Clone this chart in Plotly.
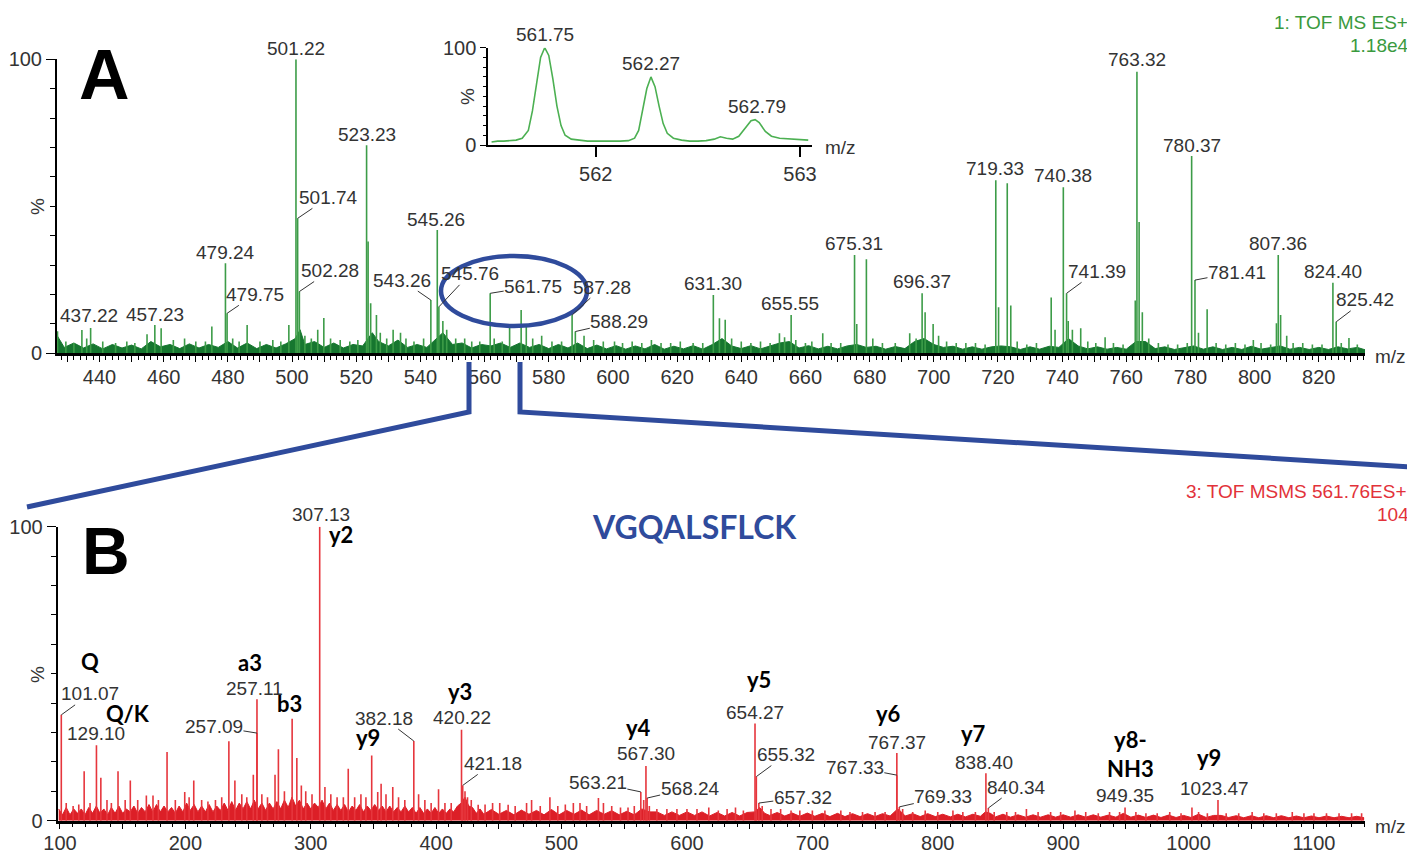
import plotly.graph_objects as go

# page is rendered with an 8px body margin, so the figure is sized/offset to compensate
W, H = 1415, 853
OFF = 8
FW, FH = W - OFF, H - OFF

# ---------------- Panel A : TOF MS survey spectrum (m/z, relative intensity %) ----------------
ms_label_mz = [437.22, 457.23, 479.24, 479.75, 501.22, 501.74, 502.28, 523.23, 543.26, 545.26,
               545.76, 561.75, 587.28, 588.29, 631.30, 655.55, 675.31, 696.37, 719.33, 740.38,
               741.39, 763.32, 780.37, 781.41, 807.36, 824.40, 825.42]
ms_label_int = [8.6, 9.6, 30.6, 13.6, 100.0, 45.9, 21.0, 70.8, 18.1, 41.9,
                15.8, 20.4, 13.0, 7.4, 19.8, 13.0, 33.4, 20.4, 58.9, 56.5,
                20.4, 95.8, 67.1, 24.9, 33.4, 24.0, 10.7]

ms_minor_peaks = [
    (426.9, 7.5), (429.5, 4), (432.0, 3.5), (434.5, 7.9), (436.0, 5), (441, 4), (445, 3.5), (448.5, 4),
    (451, 3.5), (454.8, 6.5), (459.2, 8.5), (463, 4.5), (466.5, 5), (470, 4), (473, 4), (475.0, 9.1),
    (481.5, 5), (483.5, 4), (486.0, 9.6), (490, 4), (494, 4.5), (496.5, 4), (499.0, 9.6), (504, 6),
    (506, 5), (508.0, 8), (509.9, 12), (512, 5), (515, 4.5), (518, 4), (520.5, 4.5), (523.7, 38),
    (524.5, 17), (526.3, 13), (527.5, 7), (529.5, 5), (531.5, 8), (533.8, 7), (535.5, 5), (538, 4),
    (541, 5), (547.0, 11), (548.2, 8), (551, 5), (553.8, 5), (556, 4), (558.5, 4), (563, 5),
    (565.5, 4), (567.8, 8.8), (571.4, 14.7), (573.0, 10), (575, 5), (577.8, 6), (581, 4), (584, 4),
    (591.0, 6), (594, 4.5), (597, 4), (600.5, 4), (603, 3.5), (606, 4), (609, 3.5), (612, 4.5),
    (615, 3.5), (618, 3.5), (621, 4), (625, 3.5), (628, 3.5), (633.2, 11.9), (635.0, 11.4), (637, 5),
    (640, 4), (643, 3.5), (646, 4), (649, 3.5), (651.9, 6.8), (653.5, 5.5), (657, 4.5), (660, 3.5),
    (662, 4), (665.4, 6.8), (668, 3.5), (671, 3.5), (676.0, 10), (679.0, 32), (681, 5), (684, 3.5),
    (688, 3.5), (692.5, 6.8), (694.5, 5), (697.3, 14), (699.8, 10), (701.5, 6), (704, 4), (707, 3.5),
    (710, 3.5), (713, 3.5), (716, 3), (720.2, 15.7), (722.9, 57.8), (724.0, 16.3), (726, 4), (729, 3),
    (732, 3.5), (736.6, 19), (737.8, 8), (741.9, 11), (743.2, 8), (745.8, 8.5), (748, 4), (750.5, 3.5),
    (753.4, 5.5), (756, 3.5), (759, 3), (762.8, 18), (764.0, 44.7), (765.0, 14), (767, 5), (770, 3.5),
    (773, 3), (776, 3), (779, 3.5), (782.5, 7), (785.2, 15), (788, 3.5), (791, 3), (794, 3.5),
    (797, 3), (799.6, 4.5), (802, 3.5), (805, 3), (806.8, 10.2), (808.1, 13), (810, 6), (812, 3.5),
    (815, 3.5), (818, 3), (821, 3), (827, 3.5), (829.4, 5.2), (832, 3),
]

# dense low-level "grass" (noise floor) of panel A
ms_baseline = [
    (426.8, 6), (429, 2), (432, 3.5), (435, 1.8), (438, 3.2), (441, 1.5), (444, 3), (447, 1.8), (450, 2.8),
    (453, 1.5), (456, 4), (459, 2.2), (462, 3), (465, 1.6), (468, 3.2), (471, 1.8), (474, 3), (477, 2),
    (480, 4), (483, 1.8), (486, 3.5), (489, 1.6), (492, 3), (495, 1.8), (498, 3.2), (501, 5), (502.5, 8),
    (504, 3), (507, 4), (510, 2), (513, 3.5), (516, 1.8), (519, 3), (522, 2.5), (525, 7), (527, 4),
    (530, 2.5), (533, 4.5), (536, 2), (539, 3), (542, 2), (545, 5), (547, 7), (550, 3), (553, 3.5),
    (556, 1.8), (559, 3), (562, 2.5), (565, 3.5), (568, 2), (571, 3.5), (574, 2), (577, 3), (580, 1.6),
    (583, 3), (586, 1.8), (589, 3.5), (592, 1.6), (595, 2.8), (598, 1.5), (601, 2.6), (604, 1.4),
    (607, 2.5), (610, 1.5), (613, 3), (616, 1.4), (619, 2.4), (622, 1.5), (625, 2.6), (628, 1.4),
    (631, 3), (634, 5), (637, 2.5), (640, 1.6), (643, 2.6), (646, 1.5), (649, 2.4), (652, 3.5), (655, 4),
    (658, 1.8), (661, 2.6), (664, 1.5), (667, 2.4), (670, 1.5), (673, 2.5), (676, 3), (679, 2),
    (682, 2.4), (685, 1.4), (688, 2.3), (691, 1.6), (694, 4), (697, 5), (700, 3), (703, 2), (706, 2.4),
    (709, 1.4), (712, 2.2), (715, 1.4), (718, 2.2), (721, 2.5), (724, 2.2), (727, 1.3), (730, 2.2),
    (733, 1.4), (736, 2.4), (739, 2), (742, 5), (745, 2.5), (748, 1.5), (751, 2.2), (754, 1.4), (757, 2),
    (760, 1.4), (763, 4), (766, 4), (769, 1.6), (772, 2.2), (775, 1.3), (778, 2), (781, 2.5), (784, 1.4),
    (787, 2.2), (790, 1.3), (793, 2), (796, 1.3), (799, 2.4), (802, 1.4), (805, 2), (808, 2.5),
    (811, 1.4), (814, 2), (817, 1.3), (820, 2), (823, 1.3), (826, 2.2), (829, 1.5), (832, 2), (834.4, 1.2),
]

ms_tick_vals = [430, 440, 450, 460, 470, 480, 490, 500, 510, 520, 530, 540, 550, 560, 570, 580, 590,
                600, 610, 620, 630, 640, 650, 660, 670, 680, 690, 700, 710, 720, 730, 740, 750, 760,
                770, 780, 790, 800, 810, 820, 830]
ms_tick_text = ["", "440", "", "460", "", "480", "", "500", "", "520", "", "540", "", "560", "", "580",
                "", "600", "", "620", "", "640", "", "660", "", "680", "", "700", "", "720", "", "740",
                "", "760", "", "780", "", "800", "", "820", ""]

# ---------------- Inset : isotope envelope of m/z 561.75 ----------------
iso_mz = [561.49, 561.52, 561.55, 561.58, 561.61, 561.64, 561.67, 561.69, 561.71, 561.73, 561.75,
          561.77, 561.79, 561.81, 561.83, 561.85, 561.88, 561.92, 561.96, 562.00, 562.04, 562.08,
          562.12, 562.16, 562.19, 562.21, 562.23, 562.25, 562.27, 562.29, 562.31, 562.33, 562.35,
          562.38, 562.42, 562.46, 562.50, 562.54, 562.58, 562.61, 562.64, 562.67, 562.70, 562.73,
          562.76, 562.78, 562.80, 562.83, 562.86, 562.90, 562.94, 562.98, 563.02, 563.04]
iso_int = [3, 4, 4, 4.5, 5, 7, 15, 35, 65, 90, 100,
           92, 68, 40, 20, 10, 6, 5, 4, 4, 4, 3.5,
           4, 4.5, 7, 15, 35, 58, 70, 60, 40, 22, 12,
           7, 5, 4, 4, 4.5, 6, 8.5, 7, 6, 9, 17,
           25, 26, 23, 14, 9, 7, 6.5, 5.5, 5, 5]
iso_label_mz = [561.75, 562.27, 562.79]
iso_label_int = [100, 70, 26]

# ---------------- Panel B : TOF MSMS of 561.76 (m/z, relative intensity %) ----------------
msms_label_mz = [101.07, 129.10, 257.09, 257.11, 307.13, 382.18, 420.22, 421.18, 563.21, 567.30,
                 568.24, 654.27, 655.32, 657.32, 767.37, 767.33, 769.33, 838.40, 840.34, 949.35, 1023.47]
msms_label_int = [36.0, 25.7, 29.8, 41.3, 100.0, 27.1, 30.9, 12.0, 9.8, 18.6,
                  7.7, 33.1, 15.0, 6.0, 23.0, 15.5, 4.7, 16.1, 4.3, 4.5, 7.0]

msms_minor_peaks = [
    (105.0, 6), (110.5, 5), (115.0, 5.5), (119.3, 16.8), (124.0, 6), (132.6, 14.6), (137.5, 7),
    (141.0, 6), (146.3, 16.8), (152.0, 7), (156.1, 13.7), (162.0, 7), (168.9, 8.6), (174.2, 8.6),
    (178.5, 7), (185.4, 23.4), (192.0, 7), (199.5, 9.8), (203.0, 8), (206.7, 13.7), (213.0, 7),
    (218.0, 6.5), (224.0, 7), (229.0, 8), (234.7, 27), (239.5, 13.7), (245.0, 9), (249.0, 8),
    (254.2, 15.6), (261.0, 9), (265.5, 8), (271.5, 15.6), (274.2, 24.3), (279.0, 10), (285.15, 34.7),
    (288.9, 21.3), (292.5, 12), (296.0, 10), (301.0, 9), (311.3, 11.5), (316.0, 9), (321.0, 8),
    (326.0, 8), (329.9, 17.7), (335.0, 8), (340.0, 9), (344.0, 8), (348.6, 22.2), (353.4, 9.8),
    (356.1, 12.6), (360.0, 9), (365.4, 11.5), (370.0, 8), (375.0, 7), (386.0, 9), (391.0, 7),
    (396.0, 6), (401.9, 10.7), (407.0, 6), (412.0, 6), (423.0, 10), (425.0, 8), (428.0, 7),
    (433.5, 5.4), (439.0, 5.5), (445.0, 6), (450.7, 6), (457.4, 5.4), (463.0, 5), (472.1, 6),
    (476.1, 7), (483.0, 5), (490.7, 8), (497.0, 5), (503.0, 5.5), (509.4, 6), (514.7, 6), (520.0, 5),
    (529.4, 7.7), (533.4, 6), (540.0, 5), (547.0, 4.5), (553.0, 4.5), (558.0, 5), (565.5, 7),
    (570.0, 5), (576.0, 4), (584.0, 4), (592.0, 4), (600.0, 4), (608.0, 4), (617.4, 4.5), (625.0, 3.5),
    (632.0, 4), (638.7, 4.5), (645.0, 3.5), (660.0, 5), (667.0, 4), (674.7, 4), (683.0, 3.5),
    (690.0, 3.5), (700.0, 3.5), (710.0, 3.5), (722.7, 3.5), (730.0, 3), (740.0, 3), (750.0, 3),
    (758.0, 3), (772.0, 4), (780.0, 3), (790.0, 3.5), (800.0, 3), (812.1, 3.5), (820.0, 3),
    (830.0, 3), (845.0, 3), (855.0, 3), (862.0, 3), (870.7, 4), (880.0, 3), (890.0, 3), (898.0, 3),
    (909.4, 3.5), (918.0, 3), (928.0, 2.5), (937.0, 3), (945.0, 3), (958.0, 3), (966.0, 2.5),
    (975.0, 2.5), (985.0, 3), (994.0, 2.5), (1002.7, 4.5), (1008.0, 3), (1015.0, 2.5), (1030.0, 2.5),
    (1040.0, 2.5), (1050.7, 3), (1060.0, 2.5), (1070.0, 2.5), (1082.7, 3), (1092.0, 2.5),
    (1100.0, 2.5), (1110.0, 2.5), (1120.0, 2.5), (1130.0, 2.5), (1138.0, 2.5),
]

# dense low-level "grass" (noise floor) of panel B
msms_baseline = [
    (99, 4), (102, 2), (105, 4.5), (108, 2), (111, 4), (114, 2.5), (117, 4), (120, 2), (123, 4.5),
    (126, 2.5), (129, 5), (132, 2.5), (135, 4), (138, 2), (141, 4.5), (144, 2.5), (147, 5), (150, 2.5),
    (153, 4), (156, 3), (159, 5), (162, 2.5), (165, 4.5), (168, 3), (171, 5.5), (174, 3), (177, 5.5),
    (180, 3), (183, 5), (186, 3), (189, 4.5), (192, 2.5), (195, 5), (198, 3), (201, 6), (204, 3.5),
    (207, 5.5), (210, 3), (213, 5), (216, 3), (219, 5.5), (222, 3), (225, 5), (228, 3.5), (231, 6),
    (234, 3.5), (237, 6.5), (240, 3.5), (243, 6), (246, 4), (249, 6.5), (252, 4), (255, 7), (258, 4),
    (261, 6), (264, 3.5), (267, 6), (270, 4), (273, 6.5), (276, 4), (279, 7), (282, 4.5), (285, 8),
    (288, 5), (291, 7), (294, 4), (297, 6), (300, 4), (303, 6), (306, 4.5), (309, 7), (312, 4),
    (315, 6), (318, 3.5), (321, 5.5), (324, 3.5), (327, 5.5), (330, 3), (333, 5), (336, 3.5),
    (339, 5.5), (342, 3), (345, 5), (348, 3.5), (351, 5.5), (354, 3.5), (357, 5), (360, 3), (363, 5),
    (366, 3), (369, 4.5), (372, 3), (375, 5), (378, 3), (381, 4.5), (384, 2.5), (387, 4.5), (390, 2.5),
    (393, 4), (396, 2.5), (399, 4.5), (402, 2.5), (405, 4), (408, 2.5), (411, 4), (414, 3), (417, 5),
    (420, 6), (423, 8), (426, 5), (429, 4.5), (432, 2.5), (435, 4), (438, 2.2), (444, 3.8), (450, 2.2),
    (456, 3.5), (462, 2), (468, 3.6), (474, 2.2), (480, 3.5), (486, 2), (492, 3.8), (498, 2), (504, 3.5),
    (510, 2.2), (516, 3.6), (522, 2), (528, 3.5), (534, 2.2), (540, 3.4), (546, 2), (552, 3.2), (558, 2),
    (564, 4), (570, 3), (576, 3), (582, 1.8), (588, 3), (594, 1.8), (600, 3), (606, 1.8), (612, 3),
    (618, 1.6), (624, 2.8), (630, 1.6), (636, 2.8), (642, 1.6), (648, 2.8), (654, 3), (658, 4.5),
    (662, 2.5), (666, 1.8), (672, 2.8), (678, 1.6), (684, 2.6), (690, 1.5), (696, 2.6), (702, 1.5),
    (708, 2.5), (714, 1.4), (720, 2.5), (726, 1.4), (732, 2.4), (738, 1.4), (744, 2.4), (750, 1.4),
    (756, 2.4), (762, 1.6), (768, 4), (771, 3), (774, 1.6), (780, 2.4), (786, 1.4), (792, 2.4),
    (798, 1.4), (804, 2.2), (810, 1.3), (816, 2.2), (822, 1.3), (828, 2.2), (834, 1.5), (838, 3),
    (842, 2.5), (846, 1.3), (852, 2.2), (858, 1.2), (864, 2), (870, 1.2), (876, 2), (882, 1.2), (888, 2),
    (894, 1.2), (900, 2), (906, 1.2), (912, 2), (918, 1.2), (924, 2), (930, 1.2), (936, 1.9), (942, 1.2),
    (948, 2.5), (954, 1.2), (960, 1.9), (966, 1.1), (972, 1.9), (978, 1.1), (984, 1.9), (990, 1.1),
    (996, 1.8), (1002, 1.1), (1008, 2.2), (1014, 1.1), (1020, 1.8), (1026, 1.8), (1032, 1.1),
    (1038, 1.7), (1044, 1), (1050, 1.7), (1056, 1), (1062, 1.7), (1068, 1), (1074, 1.7), (1080, 1),
    (1086, 1.6), (1092, 1), (1098, 1.6), (1104, 1), (1110, 1.6), (1116, 1), (1122, 1.5), (1128, 1),
    (1134, 1.5), (1140, 1),
]

msms_tick_vals = [100, 150, 200, 250, 300, 350, 400, 450, 500, 550, 600, 650, 700, 750, 800, 850,
                  900, 950, 1000, 1050, 1100]
msms_tick_text = ["100", "", "200", "", "300", "", "400", "", "500", "", "600", "", "700", "", "800",
                  "", "900", "", "1000", "", "1100"]

# fragment-ion assignments (text, anchor peak m/z, anchor peak intensity)
ion_text = ["Q", "Q/K", "a3", "b3", "y2", "y9", "y3", "y4", "y5", "y6", "y7", "y8-<br>NH3", "y9"]
ion_mz = [101.07, 129.10, 257.11, 285.15, 307.13, 348.6, 420.22, 567.30, 654.27, 767.37, 838.40, 949.35, 1023.47]
ion_int = [36.0, 25.7, 41.3, 34.7, 100.0, 22.2, 30.9, 18.6, 33.1, 23.0, 16.1, 4.5, 7.0]

peptide = "VGQALSFLCK"

# ---------------- label placement (pixel offsets from peak tops; leader flag) ----------------
ms_label_pos = [(-2, -13, 0), (0, -11, 0), (0, -11, 0), (28, -19, 1), (0, -11, 0), (31, -21, 1),
                (31, -21, 1), (0, -11, 0), (-29, -20, 1), (-1, -11, 0), (31, -33, 1), (43, -7, 1),
                (30, -28, 1), (44, -10, 1), (0, -12, 0), (-1, -12, 0), (-1, -12, 0), (0, -12, 0),
                (-1, -12, 0), (0, -12, 0), (30, -22, 1), (0, -12, 0), (0, -11, 0), (42, -8, 1),
                (0, -12, 0), (0, -11, 0), (29, -22, 1)]
msms_label_pos = [(29, -21, 1), (0, -12, 0), (-43, -7, 1), (-2, -11, 0), (1, -12, 0), (-30, -23, 1),
                  (0, -12, 0), (30, -22, 1), (-43, -9, 1), (0, -13, 0), (43, -10, 1), (0, -11, 0),
                  (30, -22, 1), (44, -6, 1), (0, -11, 0), (-42, -8, 1), (44, -10, 1), (-2, -11, 0),
                  (28, -21, 1), (0, -12, 0), (-3, -12, 0)]
ion_pos = [(29, -53), (32, -32), (-7, -37), (-3, -15), (21, 8), (-4, -18), (-2, -38), (-7, -39),
           (4, -44), (-8, -40), (-12, -40), (5, -53), (-9, -43)]

GREEN_PEAK = "#3d9c48"
GREEN_BASE = "#16762f"
RED_PEAK = "#e6363d"
RED_BASE = "#dc1f27"
BLUE = "#2f4b9c"
TXT = "#333333"
FONT = "Liberation Sans, Arial, sans-serif"


def px(x):
    return (x - OFF) / FW


def py(y):
    return 1 - (y - OFF) / FH


def sticks(pairs):
    xs, ys = [], []
    for m, h in pairs:
        xs += [m, m, None]
        ys += [0, h, None]
    return xs, ys


fig = go.Figure()

# Panel A
fig.add_trace(go.Scatter(x=[p[0] for p in ms_baseline], y=[p[1] for p in ms_baseline],
                         mode="lines", fill="tozeroy", line=dict(color=GREEN_BASE, width=1),
                         fillcolor=GREEN_BASE, xaxis="x", yaxis="y", hoverinfo="skip"))
xa, ya = sticks(list(zip(ms_label_mz, ms_label_int)) + ms_minor_peaks)
fig.add_trace(go.Scatter(x=xa, y=ya, mode="lines", line=dict(color=GREEN_PEAK, width=1.6),
                         xaxis="x", yaxis="y", hoverinfo="skip"))

# Inset
fig.add_trace(go.Scatter(x=iso_mz, y=iso_int, mode="lines", line=dict(color="#4cb052", width=1.6),
                         xaxis="x3", yaxis="y3", hoverinfo="skip"))

# Panel B
fig.add_trace(go.Scatter(x=[p[0] for p in msms_baseline], y=[p[1] for p in msms_baseline],
                         mode="lines", fill="tozeroy", line=dict(color=RED_BASE, width=1),
                         fillcolor=RED_BASE, xaxis="x2", yaxis="y2", hoverinfo="skip"))
xb, yb = sticks(list(zip(msms_label_mz, msms_label_int)) + msms_minor_peaks)
fig.add_trace(go.Scatter(x=xb, y=yb, mode="lines", line=dict(color=RED_PEAK, width=1.6),
                         xaxis="x2", yaxis="y2", hoverinfo="skip"))

tickfont = dict(family=FONT, size=20, color=TXT)
axis_common = dict(showgrid=False, zeroline=False, showline=True, linecolor="black",
                   ticks="outside", tickcolor="black", tickfont=tickfont, fixedrange=True,
                   automargin=False)

fig.update_layout(
    template="none",
    width=FW, height=FH, margin=dict(l=0, r=0, t=0, b=0, pad=0, autoexpand=False),
    paper_bgcolor="white", plot_bgcolor="rgba(0,0,0,0)", showlegend=False, hovermode=False,
    xaxis=dict(domain=[px(57), px(1365)], range=[426.74, 834.4], anchor="y", linewidth=2.5,
               tickmode="array", tickvals=ms_tick_vals, ticktext=ms_tick_text, ticklen=6, tickwidth=1.3,
               ticklabelstandoff=-2,
               minor=dict(tickmode="linear", tick0=0, dtick=2, ticks="outside", ticklen=4,
                          tickcolor="black", tickwidth=1), **axis_common),
    yaxis=dict(domain=[py(353.3), py(59.3)], range=[0, 100], anchor="x", linewidth=2,
               tickmode="array", tickvals=[0, 100], ticktext=["0", "100"], ticklen=9, tickwidth=1.3,
               minor=dict(tickmode="linear", tick0=0, dtick=10, ticks="outside", ticklen=5,
                          tickcolor="black", tickwidth=1), **axis_common),
    xaxis2=dict(domain=[px(57.7), px(1365)], range=[98.2, 1140.7], anchor="y2", linewidth=2.5,
                tickmode="array", tickvals=msms_tick_vals, ticktext=msms_tick_text, ticklen=6,
                tickwidth=1.3, ticklabelstandoff=-3,
                minor=dict(tickmode="linear", tick0=0, dtick=10, ticks="outside", ticklen=4,
                           tickcolor="black", tickwidth=1), **axis_common),
    yaxis2=dict(domain=[py(820.7), py(526.7)], range=[0, 100], anchor="x2", linewidth=2,
                tickmode="array", tickvals=[0, 100], ticktext=["0", "100"], ticklen=9, tickwidth=1.3,
                minor=dict(tickmode="linear", tick0=0, dtick=10, ticks="outside", ticklen=5,
                           tickcolor="black", tickwidth=1), **axis_common),
    xaxis3=dict(domain=[px(488.3), px(811.7)], range=[561.474, 563.057], anchor="y3", linewidth=2,
                tickmode="array", tickvals=[562, 563], ticktext=["562", "563"], ticklen=10,
                tickwidth=1.5, **axis_common),
    yaxis3=dict(domain=[py(145), py(47.7)], range=[0, 100], anchor="x3", linewidth=2,
                tickmode="array", tickvals=[0, 100], ticktext=["0", "100"], ticklen=6, tickwidth=1.3,
                minor=dict(tickmode="linear", tick0=0, dtick=10, ticks="outside", ticklen=3,
                           tickcolor="black", tickwidth=1), **axis_common),
)

lab_font = dict(family=FONT, size=19, color=TXT)


def add_peak_labels(mzs, ints, pos, xr, yr):
    for m, h, (dx, dy, lead) in zip(mzs, ints, pos):
        fig.add_annotation(x=m, y=h, xref=xr, yref=yr, text=f"{m:.2f}", showarrow=True,
                           ax=dx, ay=dy, arrowhead=0, arrowwidth=1, standoff=0,
                           arrowcolor=TXT if lead else "rgba(0,0,0,0)", font=lab_font, borderpad=0)


add_peak_labels(ms_label_mz, ms_label_int, ms_label_pos, "x", "y")
add_peak_labels(msms_label_mz, msms_label_int, msms_label_pos, "x2", "y2")
add_peak_labels(iso_label_mz, iso_label_int, [(0, -13, 0)] * 3, "x3", "y3")

for t, m, h, (dx, dy) in zip(ion_text, ion_mz, ion_int, ion_pos):
    fig.add_annotation(x=m, y=h, xref="x2", yref="y2", text=f"<b>{t}</b>", showarrow=True,
                       ax=dx, ay=dy, arrowcolor="rgba(0,0,0,0)", arrowhead=0,
                       font=dict(family="Lato, Open Sans, sans-serif", size=22, color="black"))


def paper_text(x, y, text, size=19, color=TXT, xanchor="center", angle=0, family=FONT):
    fig.add_annotation(x=px(x), y=py(y), xref="paper", yref="paper", text=text, showarrow=False,
                       xanchor=xanchor, yanchor="middle", textangle=angle,
                       font=dict(family=family, size=size, color=color))


paper_text(105, 75, "<b>A</b>", size=70, color="black", family="Liberation Sans, Arial")
paper_text(106, 551, "<b>B</b>", size=66, color="black", family="Liberation Sans, Arial")
paper_text(37, 207, "%", angle=-90)
paper_text(37, 675, "%", angle=-90)
paper_text(467, 97, "%", angle=-90)
paper_text(1390, 357, "m/z")
paper_text(1390, 826, "m/z")
paper_text(840, 148, "m/z")
paper_text(1410, 22, "1: TOF MS ES+", color="#3a9a3e", xanchor="right")
paper_text(1411, 46, "1.18e4", color="#3a9a3e", xanchor="right")
paper_text(1409, 491, "3: TOF MSMS 561.76ES+", color="#e2323a", xanchor="right")
paper_text(1411, 514, "104", color="#e2323a", xanchor="right")
paper_text(694, 526, f"<b>{peptide}</b>", size=32, color=BLUE, family="Lato, Open Sans, sans-serif")

# zoom ellipse and connector lines
fig.add_shape(type="circle", xref="paper", yref="paper", x0=px(441), x1=px(587), y0=py(326),
              y1=py(256), line=dict(color=BLUE, width=4.5), layer="above")
fig.add_shape(type="path", xref="paper", yref="paper",
              path=f"M {px(469)},{py(362)} L {px(469)},{py(412)} L {px(27)},{py(507)}",
              line=dict(color=BLUE, width=5), layer="above")
fig.add_shape(type="path", xref="paper", yref="paper",
              path=f"M {px(520)},{py(362)} L {px(520)},{py(412)} L {px(1413)},{py(467)}",
              line=dict(color=BLUE, width=5), layer="above")

fig.write_html("out.html")
